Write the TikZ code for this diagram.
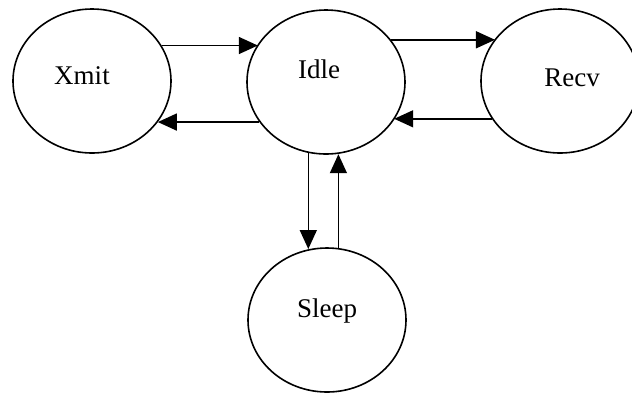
\documentclass[tikz,border=0pt]{standalone}
\usepackage{fontspec}
\setmainfont{Liberation Serif}
\usepackage{tikz}
\usetikzlibrary{shapes.geometric, arrows.meta, positioning}

\begin{document}
\begin{tikzpicture}[x=0.5pt, y=-0.5pt, >={Triangle[length=9.5pt, width=8.5pt]}]
    \tikzstyle{state} = [ellipse, draw=black, line width=0.8pt, inner sep=0pt, minimum width=79pt, minimum height=72pt, text height=9pt, font=\fontsize{13.5}{16}\selectfont]
    \tikzstyle{trans} = [->, line width=0.75pt]

    \useasboundingbox (0,0) rectangle (632,393);

    \node (xmit) [state, text depth=6pt] at (92,81) {Xmit\hspace*{10pt}};
    \node (idle) [state, text depth=13pt] at (326,82) {Idle\hspace*{7pt}};
    \node (recv) [state, text depth=4pt] at (560,81) {\hspace*{12pt}Recv};
    \node (sleep) [state, text depth=12pt] at (327,320) {Sleep};

    % Top Arrows (kept level with -|)
    \draw[trans] (xmit.27.5) -- (xmit.27.5 -| idle.151.4);
    \draw[trans] (idle.33.2) -- (idle.33.2 -| recv.147.7);

    % Bottom Arrows
    \draw[trans] (idle.211.3) -- (idle.211.3 -| xmit.328.1);
    \draw[trans] (recv.209.5) -- (recv.209.5 -| idle.331.4);

    % Idle <-> Sleep (kept upright with |-)
    \draw[trans] (idle.256.4) -- (idle.256.4 |- sleep.104.6);
    \draw[trans] (sleep.81.9) -- (sleep.81.9 |- idle.278.8);
\end{tikzpicture}
\end{document}
